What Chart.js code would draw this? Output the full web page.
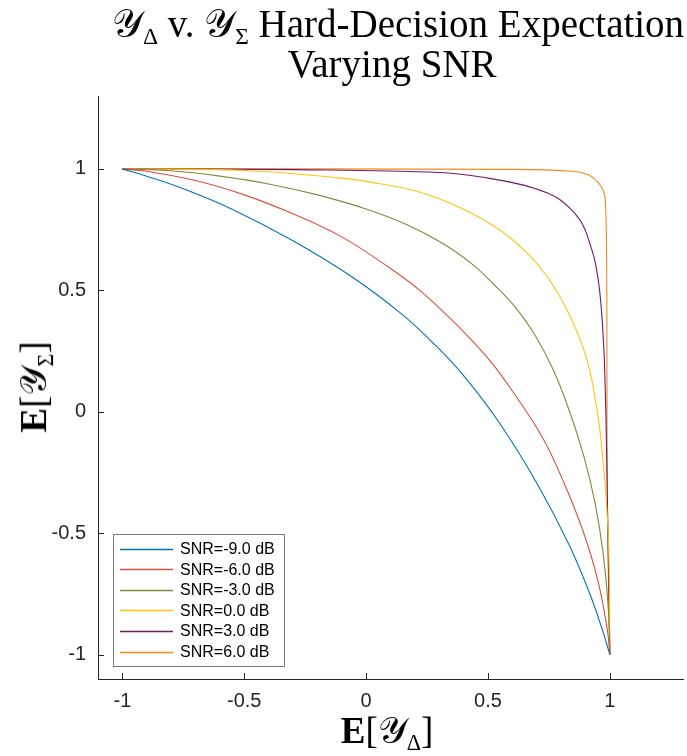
<!DOCTYPE html>
<html>
<head>
<meta charset="utf-8">
<script src="https://cdn.jsdelivr.net/npm/chart.js@4.4.1/dist/chart.umd.min.js"></script>
<style>
  body { margin: 0; background: #fff; }
  #wrap { position: relative; width: 687px; height: 756px; }
  .lbl { position: absolute; font-family: 'Liberation Serif', 'DejaVu Serif', serif; color: #000; white-space: nowrap; line-height: 1; }
  .lbl sub { font-size: 0.6em; vertical-align: -0.3em; }
  #title1 { left: 398px; top: 4px; font-size: 39px; transform: translateX(-50%); }
  #title2 { left: 392px; top: 44px; font-size: 39px; transform: translateX(-50%); }
  #xlab { left: 387px; top: 712px; font-size: 37px; transform: translateX(-50%); }
  #ylab { left: 36px; top: 387px; font-size: 37px; transform: translate(-50%, -50%) rotate(-90deg); }
  .cal { font-family: 'DejaVu Serif', 'DejaVu Sans', serif; font-style: normal; font-weight: normal; }
</style>
</head>
<body>
<div id="wrap">
  <canvas id="myChart" width="687" height="756"></canvas>
  <div class="lbl" id="title1"><span class="cal">𝒴</span><sub>Δ</sub> v. <span class="cal">𝒴</span><sub>Σ</sub> Hard-Decision Expectation</div>
  <div class="lbl" id="title2">Varying SNR</div>
  <div class="lbl" id="xlab"><b>E</b>[<span class="cal">𝒴</span><sub>Δ</sub>]</div>
  <div class="lbl" id="ylab"><b>E</b>[<span class="cal">𝒴</span><sub>Σ</sub>]</div>
</div>
<script>
'use strict';

// DATA
let snrLabels = ['SNR=-9.0 dB', 'SNR=-6.0 dB', 'SNR=-3.0 dB', 'SNR=0.0 dB', 'SNR=3.0 dB', 'SNR=6.0 dB'];
let lineColors = ['#0072BD', '#D9503F', '#7F8A3C', '#FFC20E', '#6E1A6E', '#F08A1C'];

let xTicks = [-1, -0.5, 0, 0.5, 1];
let yTicks = [-1, -0.5, 0, 0.5, 1];

let m9x = [-1, -0.9, -0.75, -0.55, -0.3, -0.05, 0.15, 0.279, 0.399, 0.55, 0.704, 0.834, 0.918, 0.97, 1];
let m9y = [1, 0.97, 0.918, 0.834, 0.704, 0.55, 0.399, 0.279, 0.15, -0.05, -0.3, -0.55, -0.75, -0.9, -1];

let m6x = [-1, -0.9, -0.7, -0.5, -0.3, -0.1, 0.1, 0.22, 0.365, 0.5, 0.59, 0.72, 0.815, 0.893, 0.952, 0.99, 1];
let m6y = [1, 0.99, 0.952, 0.893, 0.815, 0.72, 0.59, 0.5, 0.365, 0.22, 0.1, -0.1, -0.3, -0.5, -0.7, -0.9, -1];

let m3x = [-1, -0.8, -0.6, -0.4, -0.2, 0, 0.17, 0.32, 0.44, 0.524, 0.604, 0.69, 0.769, 0.835, 0.895, 0.94, 0.972, 0.993, 1];
let m3y = [1, 0.992, 0.97, 0.938, 0.893, 0.835, 0.769, 0.69, 0.604, 0.524, 0.44, 0.32, 0.17, 0, -0.19, -0.38, -0.58, -0.8, -1];

let p0x = [-1, -0.5, -0.1, 0.05, 0.2, 0.33, 0.45, 0.56, 0.657, 0.74, 0.808, 0.865, 0.91, 0.94, 0.962, 0.993, 1];
let p0y = [1, 0.993, 0.962, 0.94, 0.91, 0.865, 0.808, 0.74, 0.657, 0.56, 0.45, 0.33, 0.2, 0.05, -0.1, -0.5, -1];

let p3x = [-1, -0.3, 0.3, 0.5, 0.65, 0.75, 0.79, 0.837, 0.877, 0.898, 0.914, 0.941, 0.961, 0.975, 0.982, 0.985, 0.992, 1];
let p3y = [1, 0.997, 0.985, 0.962, 0.932, 0.898, 0.877, 0.837, 0.79, 0.75, 0.705, 0.61, 0.47, 0.264, 0.058, -0.078, -0.5, -1];

let p6x = [-1, 0.6, 0.85, 0.914, 0.948, 0.975, 0.983, 0.987, 0.988, 0.99, 1];
let p6y = [1, 0.998, 0.99, 0.975, 0.948, 0.905, 0.83, 0.6, 0.2, -0.4, -1];

let seriesX = [m9x, m6x, m3x, p0x, p3x, p6x];
let seriesY = [m9y, m6y, m3y, p0y, p3y, p6y];

// HELPERS
function toPoints(xs, ys){
  let pts = [];
  for(let i = 0; i < xs.length; i++){
    pts.push({x: xs[i], y: ys[i]});
  }
  return pts;
}

let datasets = [];
for(let i = 0; i < snrLabels.length; i++){
  datasets.push({
    label: snrLabels[i],
    data: toPoints(seriesX[i], seriesY[i]),
    borderColor: lineColors[i],
    backgroundColor: lineColors[i],
    borderWidth: 1.1,
    pointRadius: 0,
    showLine: true,
    tension: 0.4,
  });
}

// inward MATLAB-style ticks
const innerTicks = {
  id: 'innerTicks',
  afterDraw(chart){
    let ctx = chart.ctx;
    let xs = chart.scales.x;
    let ys = chart.scales.y;
    let area = chart.chartArea;
    ctx.save();
    ctx.strokeStyle = '#262626';
    ctx.lineWidth = 1;
    ctx.beginPath();
    xTicks.forEach(v => {
      let px = Math.round(xs.getPixelForValue(v)) + 0.5;
      ctx.moveTo(px, area.bottom);
      ctx.lineTo(px, area.bottom - 6);
    });
    yTicks.forEach(v => {
      let py = Math.round(ys.getPixelForValue(v)) + 0.5;
      ctx.moveTo(area.left, py);
      ctx.lineTo(area.left + 6, py);
    });
    ctx.stroke();
    ctx.restore();
  }
};

// legend box inside the axes, lower left
const boxLegend = {
  id: 'boxLegend',
  afterDraw(chart){
    let ctx = chart.ctx;
    let left = 113, top = 534, w = 171, h = 132;
    ctx.save();
    ctx.fillStyle = '#fff';
    ctx.fillRect(left, top, w, h);
    ctx.strokeStyle = '#7a7a7a';
    ctx.lineWidth = 1;
    ctx.strokeRect(left + 0.5, top + 0.5, w, h);
    ctx.font = '16px "Liberation Sans", Arial, sans-serif';
    ctx.textBaseline = 'middle';
    ctx.fillStyle = '#000';
    for(let i = 0; i < snrLabels.length; i++){
      let cy = top + 14.5 + i * 20.6;
      ctx.strokeStyle = lineColors[i];
      ctx.lineWidth = 1.3;
      ctx.beginPath();
      ctx.moveTo(120, Math.round(cy) + 0.5);
      ctx.lineTo(173, Math.round(cy) + 0.5);
      ctx.stroke();
      ctx.fillText(snrLabels[i], 180, cy + 1);
    }
    ctx.restore();
  }
};

const ctx = document.getElementById('myChart');
const myChart = new Chart(ctx, {
  type: 'scatter',
  data: { datasets: datasets },
  options: {
    responsive: false,
    animation: false,
    layout: { padding: { left: 48, right: 4, top: 96, bottom: 42 } },
    plugins: {
      legend: { display: false },
      title: { display: false },
      tooltip: { enabled: false },
    },
    scales: {
      x: {
        type: 'linear',
        min: -1.1,
        max: 1.3,
        afterBuildTicks: s => { s.ticks = xTicks.map(v => ({value: v})); },
        afterFit: s => { s.height = 35; },
        grid: { display: false, drawTicks: false },
        border: { display: true, color: '#262626', width: 1 },
        ticks: {
          padding: 10,
          color: '#262626',
          font: { family: '"Liberation Sans", Arial, sans-serif', size: 20 },
          callback: v => String(v),
        },
      },
      y: {
        type: 'linear',
        min: -1.1,
        max: 1.3,
        afterBuildTicks: s => { s.ticks = yTicks.map(v => ({value: v})); },
        afterFit: s => { s.width = 50; },
        grid: { display: false, drawTicks: false },
        border: { display: true, color: '#262626', width: 1 },
        ticks: {
          padding: 12,
          color: '#262626',
          font: { family: '"Liberation Sans", Arial, sans-serif', size: 20 },
          callback: v => String(v),
        },
      },
    },
  },
  plugins: [innerTicks, boxLegend],
});
</script>
</body>
</html>
